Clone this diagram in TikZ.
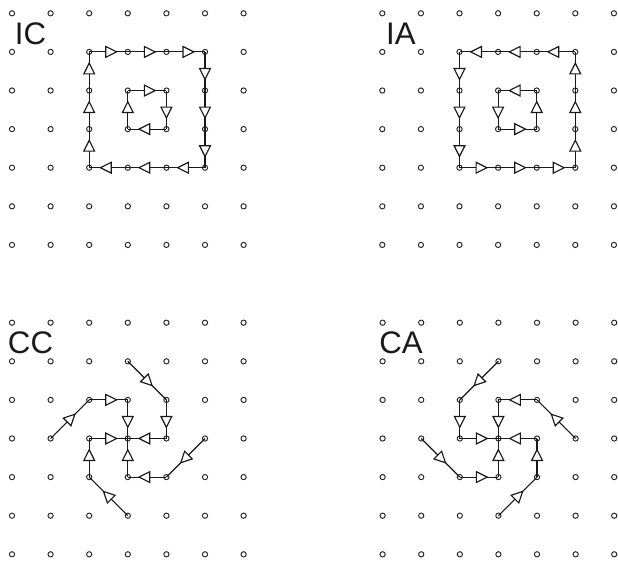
\documentclass[tikz,border=0pt]{standalone}
\usepackage{fontspec}
\setmainfont{Liberation Sans}
\usetikzlibrary{decorations.markings}

\begin{document}
\begin{tikzpicture}[
  gridpt/.style={draw=black!85,line width=0.7pt},
  flow/.style={draw=black!90,line width=0.85pt,postaction={decorate},
    decoration={markings,mark=at position 0.43 with
      {\draw[fill=white,line width=0.85pt] (0,0.14) -- (0.28,0) -- (0,-0.14) -- cycle;}}},
  panel/.style={font=\fontsize{23}{27}\selectfont,text=black!90,inner sep=0pt}
]
\useasboundingbox (0,0) rectangle (16.01,14.508);
\foreach \p/\ox/\oy in {IC/0.311/14.163,IA/9.904/14.163,CC/0.311/6.148,CA/9.912/6.148}{
  \foreach \i in {0,...,6}
    \foreach \j in {0,...,6}{
      \coordinate (\p-\i-\j) at (\ox+\i,\oy-\j);
      \draw[gridpt] (\p-\i-\j) circle[radius=0.068];
    }
  \node[panel] (\p) at (\ox+0.48,\oy-0.52) {\p};
}

\foreach \a/\b in {2-1/3-1,3-1/4-1,4-1/5-1,5-1/5-2,5-2/5-3,5-3/5-4,
                   5-4/4-4,4-4/3-4,3-4/2-4,2-4/2-3,2-3/2-2,2-2/2-1,
                   3-2/4-2,4-2/4-3,4-3/3-3,3-3/3-2}{
  \draw[flow] (IC-\a) -- (IC-\b);
  \draw[flow] (IA-\b) -- (IA-\a);
}

\foreach \a/\b in {3-1/4-2,4-2/4-3,4-3/3-3,1-3/2-2,2-2/3-2,3-2/3-3,
                   3-5/2-4,2-4/2-3,2-3/3-3,5-3/4-4,4-4/3-4,3-4/3-3}
  \draw[flow] (CC-\a) -- (CC-\b);

\foreach \a/\b in {3-1/2-2,2-2/2-3,2-3/3-3,5-3/4-2,4-2/3-2,3-2/3-3,
                   3-5/4-4,4-4/4-3,4-3/3-3,1-3/2-4,2-4/3-4,3-4/3-3}
  \draw[flow] (CA-\a) -- (CA-\b);
\end{tikzpicture}
\end{document}
